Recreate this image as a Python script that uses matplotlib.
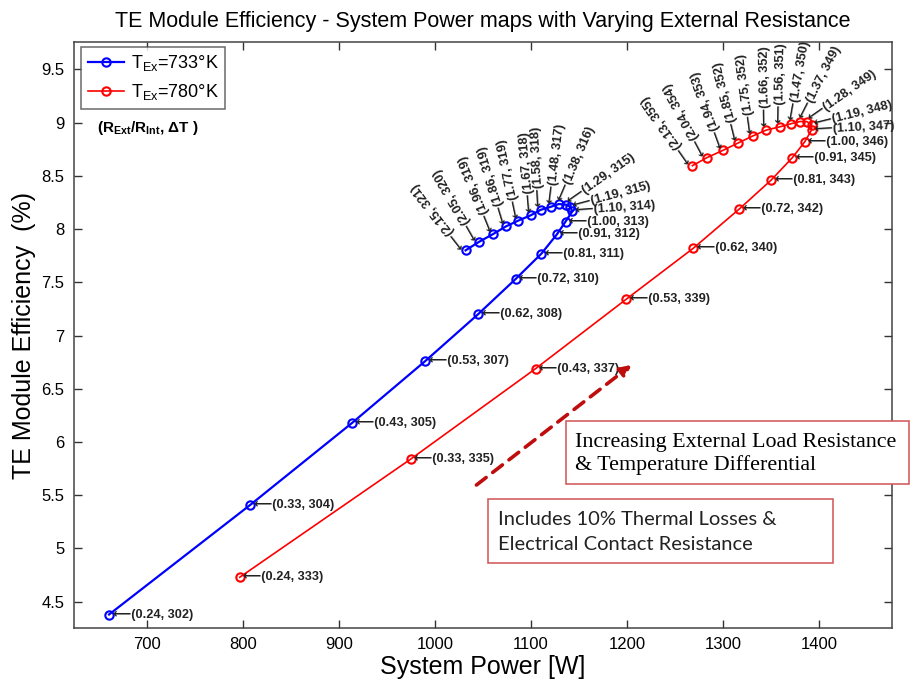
import matplotlib
matplotlib.use('Agg')
import matplotlib.pyplot as plt
import numpy as np
from matplotlib.patches import Rectangle

plt.rcParams['font.family'] = ['Liberation Sans', 'DejaVu Sans']
plt.rcParams['mathtext.default'] = 'regular'

# T_Ex = 733 K series (system power W, efficiency %)
blue_power = [661, 808, 914, 990, 1045, 1084, 1111, 1127, 1136, 1143, 1141, 1136,
              1129, 1121, 1110, 1100, 1087, 1074, 1061, 1046, 1032]
blue_eff = [4.38, 5.41, 6.18, 6.76, 7.20, 7.53, 7.77, 7.95, 8.07, 8.165, 8.21, 8.23,
            8.235, 8.21, 8.18, 8.13, 8.08, 8.025, 7.955, 7.88, 7.80]
blue_ratio = ['0.24', '0.33', '0.43', '0.53', '0.62', '0.72', '0.81', '0.91', '1.00', '1.10',
              '1.19', '1.29', '1.38', '1.48', '1.58', '1.67', '1.77', '1.86', '1.96', '2.05', '2.15']
blue_dt = [302, 304, 305, 307, 308, 310, 311, 312, 313, 314, 315, 315, 316, 317, 318, 318,
           319, 319, 319, 320, 321]

# T_Ex = 780 K series
red_power = [797, 975, 1105, 1199, 1269, 1317, 1350, 1372, 1385, 1392, 1392, 1387,
             1380, 1371, 1359, 1345, 1331, 1316, 1300, 1283, 1268]
red_eff = [4.73, 5.84, 6.69, 7.34, 7.82, 8.19, 8.46, 8.67, 8.82, 8.93, 8.98, 9.01,
           9.01, 8.99, 8.96, 8.93, 8.875, 8.81, 8.74, 8.67, 8.595]
red_ratio = ['0.24', '0.33', '0.43', '0.53', '0.62', '0.72', '0.81', '0.91', '1.00', '1.10',
             '1.19', '1.28', '1.37', '1.47', '1.56', '1.66', '1.75', '1.85', '1.94', '2.04', '2.13']
red_dt = [333, 335, 337, 339, 340, 342, 343, 345, 346, 347, 348, 349, 349, 350, 351, 352,
          352, 352, 353, 354, 355]

# label angles (degrees) for the points on each curve
blue_angle = [0]*9 + [4, 15, 35, 67, 83, 93, 95, 102, 107, 112, 120, 128]
red_angle = [0]*9 + [3, 14, 35, 63, 80, 89, 91, 98, 104, 110, 118, 125]

fig = plt.figure(figsize=(9.1, 6.8), dpi=100)
ax = fig.add_axes([0.0813, 0.0769, 0.8992, 0.8609])

ax.plot(blue_power, blue_eff, color=(0, 0, 1), lw=1.6, marker='o', ms=6,
        mfc='none', mec=(0, 0, 1), mew=1.5, label=r'T$_{Ex}$=733°K')
ax.plot(red_power, red_eff, color=(1, 0, 0), lw=1.2, marker='o', ms=6,
        mfc='none', mec=(1, 0, 0), mew=1.5, label=r'T$_{Ex}$=780°K')


def add_labels(px, py, ratio, dt, angles):
    for x, y, r, d, a in zip(px, py, ratio, dt, angles):
        off = 2.5
        dx = off*np.cos(np.radians(a))
        dy = off*np.sin(np.radians(a))
        ax.annotate('\u27f5(%s, %d)' % (r, d), (x, y), xytext=(dx, dy),
                    textcoords='offset points', rotation=a, rotation_mode='anchor',
                    ha='left', va='center', fontsize=9.2, fontweight='bold',
                    color='#222222')


add_labels(blue_power, blue_eff, blue_ratio, blue_dt, blue_angle)
add_labels(red_power, red_eff, red_ratio, red_dt, red_angle)

ax.set_xlim(624.5, 1476)
ax.set_ylim(4.256, 9.754)
ax.set_xticks(np.arange(700, 1401, 100))
ax.set_yticks(np.arange(4.5, 9.51, 0.5))
ax.set_yticklabels(['%g' % v for v in np.arange(4.5, 9.51, 0.5)])
ax.tick_params(direction='in', length=5.5, width=1, top=True, right=True,
               labelsize=12, colors='#333333', labelcolor='black', pad=7)
for s in ax.spines.values():
    s.set_color('#444444')
    s.set_linewidth(1.1)

ax.set_title('TE Module Efficiency - System Power maps with Varying External Resistance',
             fontsize=15.5, pad=11)
ax.set_xlabel('System Power [W]', fontsize=18)
ax.xaxis.set_label_coords(0.5, -0.0665)
ax.xaxis.label.set_va('center')
ax.set_ylabel('TE Module Efficiency  (%)', fontsize=18, labelpad=4)

leg = ax.legend(loc='upper left', bbox_to_anchor=(0.009, 0.992), borderaxespad=0,
                fancybox=False, edgecolor='#444444', fontsize=13, handlelength=2.0,
                handletextpad=0.4, borderpad=0.35, labelspacing=0.5)
leg.get_frame().set_linewidth(1.1)

ax.text(0.028, 0.854, r'(R$_{Ext}$/R$_{Int}$, ΔT )', transform=ax.transAxes,
        fontsize=11, fontweight='bold', va='center', ha='left')

# dashed trend arrow
ax.annotate('', xy=(1207, 6.74), xytext=(1041, 5.58),
            arrowprops=dict(arrowstyle='-|>', color=(0.75, 0.05, 0.05), lw=2.6,
                            linestyle=(0, (3.4, 2.3)), mutation_scale=16))

# text boxes (figure coordinates)
fig.add_artist(Rectangle((0.622, 0.288), 0.377, 0.093, transform=fig.transFigure,
                         fill=True, facecolor='white', edgecolor=(0.82, 0.32, 0.32), lw=1.1))
fig.text(575/910, (680-454)/680, 'Increasing External Load Resistance\n& Temperature Differential',
         family='Liberation Serif', fontsize=15.8, va='center', ha='left', linespacing=1.15)
fig.add_artist(Rectangle((0.5366, 0.1716), 0.3785, 0.0941, transform=fig.transFigure,
                         fill=True, facecolor='white', edgecolor=(0.82, 0.32, 0.32), lw=1.1))
fig.text(498/910, (680-532)/680, 'Includes 10% Thermal Losses &\nElectrical Contact Resistance',
         family='Lato', fontsize=14.5, va='center', ha='left', linespacing=1.55, color='#222222')

fig.savefig('out.png', dpi=100)
